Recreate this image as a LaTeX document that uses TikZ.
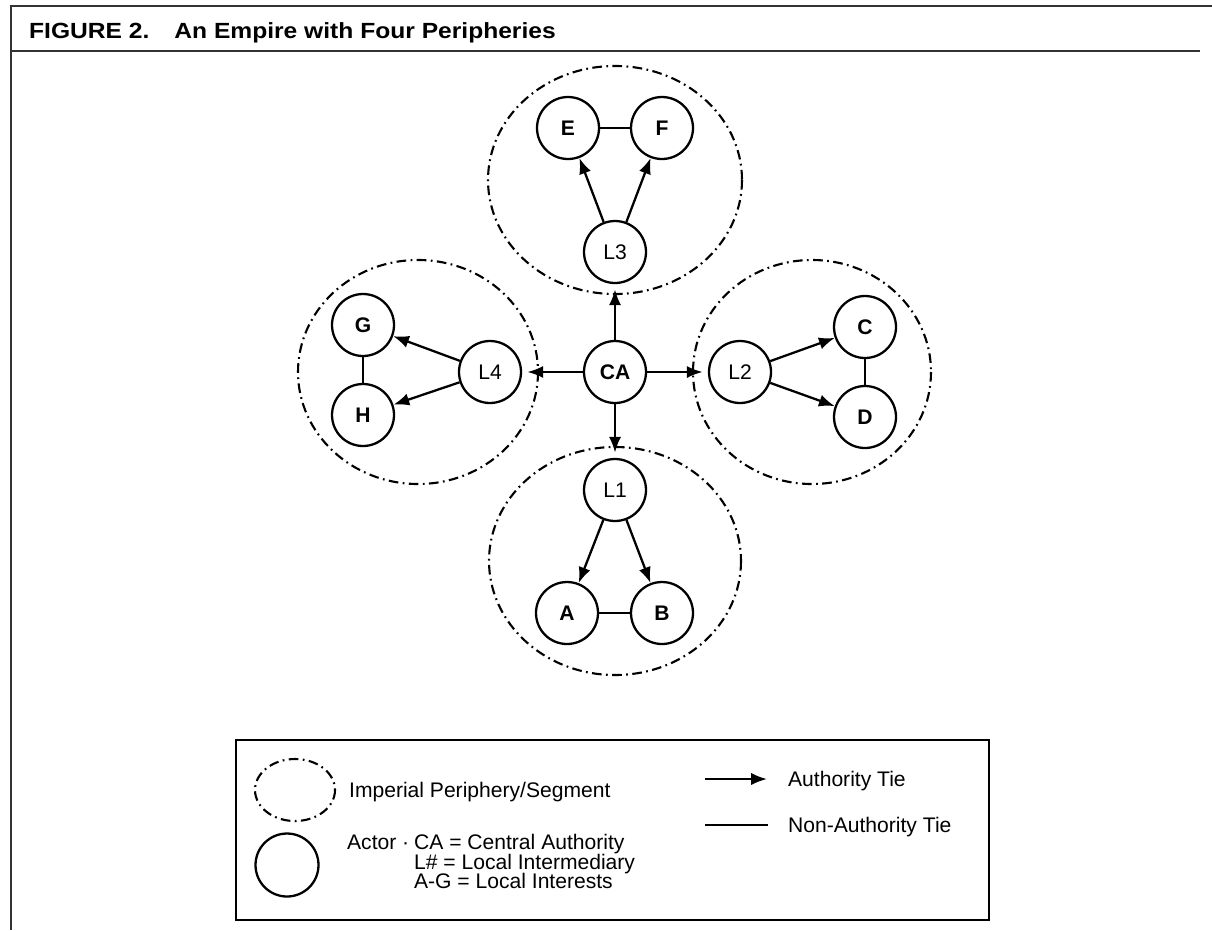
\documentclass[tikz,border=0pt]{standalone}
\usepackage{fontspec}
\setmainfont{Liberation Sans}
\newfontfamily\titlefont[FakeStretch=1.12]{Liberation Sans}
\usetikzlibrary{arrows.meta}
\begin{document}
\begin{tikzpicture}[x=0.02cm,y=-0.02cm,>={Latex[length=9pt,width=7pt]},line width=1.3pt,
	actor/.style={draw,circle,minimum size=1.24cm,inner sep=0pt,font=\fontsize{12}{14}\selectfont\bfseries},
	inter/.style={actor,font=\fontsize{12}{14}\selectfont},
	seg/.style={line width=1.2pt,dash pattern=on 5.5pt off 2.5pt on 1pt off 2.5pt},
	lgd/.style={anchor=base west,inner sep=0pt,font=\fontsize{12}{14}\selectfont}]
	\useasboundingbox (0,0) rectangle (1212,930);
	\draw[line width=0.8pt,black!80] (11,930)--(11,6)--(1212,6) (11,51)--(1200,51);
	\node[anchor=base west,inner sep=0pt,font=\titlefont\fontsize{12.5}{14}\selectfont\bfseries] (title) at (28,38) {FIGURE 2.\hspace{0.5cm}An Empire with Four Peripheries};
	% peripheries
	\draw[seg] (615,180) ellipse [x radius=127,y radius=114];
	\draw[seg] (615,561) ellipse [x radius=126,y radius=114];
	\draw[seg] (418,372) ellipse [x radius=120,y radius=112];
	\draw[seg] (812,372) ellipse [x radius=119,y radius=112];
	% actors
	\node[actor] (ca) at (615,372) {CA};
	\node[inter] (l1) at (615,490) {L1};
	\node[inter] (l2) at (740,372) {L2};
	\node[inter] (l3) at (615,252) {L3};
	\node[inter] (l4) at (490,372) {L4};
	\node[actor] (a) at (567,613) {A};
	\node[actor] (b) at (662,613) {B};
	\node[actor] (c) at (865,327) {C};
	\node[actor] (d) at (865,417) {D};
	\node[actor] (e) at (568,128) {E};
	\node[actor] (f) at (662,128) {F};
	\node[actor] (g) at (363,325) {G};
	\node[actor] (h) at (363,415) {H};
	% ties
	\foreach \l in {l1,l2,l3,l4}
		\draw[->,shorten >=3pt] (ca) -- (\l);
	\draw[->] (l1) -- (a);
	\draw[->] (l1) -- (b);
	\draw[->] (l2) -- (c);
	\draw[->] (l2) -- (d);
	\draw[->] (l3) -- (e);
	\draw[->] (l3) -- (f);
	\draw[->] (l4) -- (g);
	\draw[->] (l4) -- (h);
	\draw (a) -- (b) (c) -- (d) (e) -- (f) (g) -- (h);
	% legend
	\draw[line width=0.8pt] (236,740) rectangle (989,920);
	\draw[seg] (295,790) ellipse [x radius=40,y radius=31];
	\node[actor,minimum size=1.26cm] (lgc) at (287,865) {};
	\node[lgd] (lg1) at (348,797) {Imperial Periphery/Segment};
	\node[lgd] (lg2) at (346,849) {Actor ·};
	\node[lgd] (lg3) at (413,849) {CA = Central Authority};
	\node[lgd] (lg4) at (413,869) {L\# = Local Intermediary};
	\node[lgd] (lg5) at (413,888) {A-G = Local Interests};
	\coordinate (t1) at (705,779);
	\coordinate (t2) at (767,779);
	\coordinate (t3) at (705,825);
	\coordinate (t4) at (768,825);
	\draw[->] (t1) -- (t2);
	\draw (t3) -- (t4);
	\node[lgd] (lg6) at (787,786) {Authority Tie};
	\node[lgd] (lg7) at (787,832) {Non-Authority Tie};
\end{tikzpicture}
\end{document}
